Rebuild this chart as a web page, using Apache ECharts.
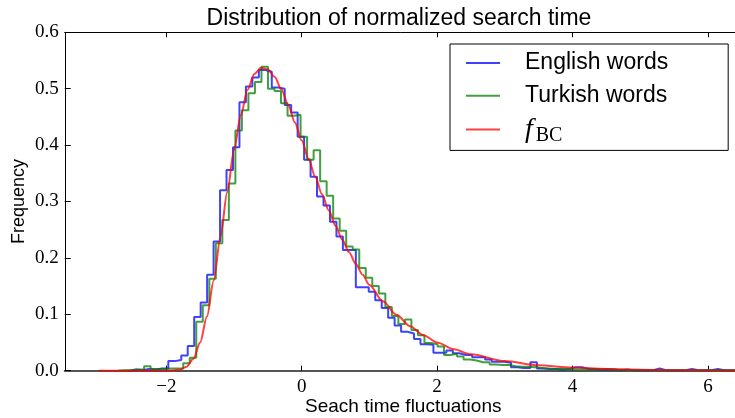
<!DOCTYPE html>
<html>
<head>
<meta charset="utf-8">
<script src="https://cdn.jsdelivr.net/npm/echarts@6/dist/echarts.min.js"></script>
<style>html,body{margin:0;padding:0;background:#fff;}#c{width:735px;height:418px;}</style>
</head>
<body>
<div id="c"></div>
<script>
// ---- data ----
const xTicks = [-2, 0, 2, 4, 6];
const yTicks = [0, 0.1, 0.2, 0.3, 0.4, 0.5, 0.6];

const englishBinStart = -2.543;
const englishBinWidth = 0.0955;
const englishHeights = [
  0.002, 0.001, 0.003, 0.002, 0.004, 0.004, 0.017, 0.019, 0.027, 0.044,
  0.095, 0.121, 0.170, 0.229, 0.320, 0.356, 0.396, 0.476, 0.504, 0.520,
  0.533, 0.530, 0.502, 0.500, 0.471, 0.458, 0.415, 0.374, 0.344, 0.309,
  0.293, 0.264, 0.238, 0.214, 0.214, 0.148, 0.148, 0.140, 0.125, 0.111,
  0.094, 0.080, 0.069, 0.066, 0.056, 0.047, 0.046, 0.032, 0.032, 0.036,
  0.031, 0.028, 0.028, 0.024, 0.024, 0.020, 0.016, 0.016, 0.014, 0.006,
  0.005, 0.005, 0.015, 0.004, 0.003, 0.003, 0.002, 0.003, 0.006, 0.006,
  0.003, 0.003, 0.002, 0.002, 0.002, 0.001, 0.002, 0.001, 0.001, 0.001,
  0.001, 0.004, 0.001, 0.001, 0.001, 0.001, 0.003, 0.001, 0.001, 0.001,
  0.003, 0.001, 0.001, 0.001, 0.001, 0.001
];

const turkishBinStart = -2.713;
const turkishBinWidth = 0.0963;
const turkishHeights = [
  0.001, 0.001, 0.002, 0.002, 0.008, 0.003, 0.003, 0.004, 0.004, 0.004,
  0.013, 0.023, 0.087, 0.116, 0.163, 0.226, 0.267, 0.332, 0.426, 0.462,
  0.492, 0.512, 0.539, 0.500, 0.496, 0.474, 0.452, 0.454, 0.415, 0.374,
  0.391, 0.336, 0.310, 0.270, 0.248, 0.220, 0.215, 0.182, 0.165, 0.150,
  0.137, 0.113, 0.097, 0.083, 0.091, 0.072, 0.063, 0.049, 0.047, 0.043,
  0.028, 0.030, 0.025, 0.020, 0.018, 0.015, 0.015, 0.011, 0.010, 0.010,
  0.008, 0.007, 0.007, 0.006, 0.005, 0.004, 0.003, 0.003, 0.003, 0.002,
  0.002, 0.002, 0.002, 0.002, 0.003, 0.002, 0.001, 0.001, 0.001, 0.001,
  0.001, 0.001, 0.001, 0.001, 0.001, 0.001, 0.001, 0.001, 0.001, 0.001,
  0.001, 0.001, 0.001, 0.001, 0.001, 0.001, 0.001, 0.001
];

const fbcX = [-3.0, -2.5, -2.2, -2.0, -1.9, -1.8, -1.7, -1.6, -1.5, -1.4, -1.3, -1.2, -1.1, -1.0,
  -0.9, -0.8, -0.7, -0.6, -0.5, -0.4, -0.3, -0.2, -0.1, 0, 0.1, 0.2, 0.3, 0.4, 0.5, 0.6, 0.7,
  0.8, 0.9, 1.0, 1.2, 1.4, 1.6, 1.8, 2.0, 2.25, 2.5, 3.0, 3.5, 4.0, 4.5, 5.0, 5.5, 6.0, 6.5];
const fbcY = [0, 0, 0, 0.0001, 0.0004, 0.0018, 0.007, 0.021, 0.050, 0.096, 0.160, 0.237, 0.317, 0.391,
  0.453, 0.498, 0.526, 0.537, 0.534, 0.521, 0.499, 0.471, 0.440, 0.408, 0.376, 0.344, 0.313, 0.284, 0.257, 0.232, 0.210,
  0.189, 0.170, 0.152, 0.123, 0.099, 0.079, 0.063, 0.050, 0.038, 0.029, 0.017, 0.0096, 0.0055, 0.0032, 0.0018, 0.0010, 0.0006, 0.0003];

const seriesNames = ['English words', 'Turkish words', 'f_BC'];

// ---- build step outlines from bins ----
function stepData(start, width, heights) {
  const pts = [[start, 0]];
  heights.forEach((h, i) => pts.push([start + i * width, h]));
  const end = start + heights.length * width;
  pts.push([end, heights[heights.length - 1]]);
  pts.push([end, 0]);
  return pts;
}

const serif = '"Liberation Serif", "DejaVu Serif", serif';
const sans = '"Liberation Sans", Arial, sans-serif';

const chart = echarts.init(document.getElementById('c'), null, {renderer: 'canvas'});
chart.setOption({
  animation: false,
  backgroundColor: '#fff',
  title: {
    text: 'Distribution of normalized search time',
    left: 394, top: 2, textAlign: 'center',
    textStyle: {fontFamily: sans, fontSize: 23, fontWeight: 'normal', color: '#000'}
  },
  legend: {
    orient: 'vertical',
    left: 450, top: 44,
    padding: [6, 60, 5, 16],
    itemGap: 6.7,
    icon: 'rect',
    itemWidth: 34, itemHeight: 2,
    borderColor: '#000', borderWidth: 1, borderRadius: 0,
    backgroundColor: '#fff',
    data: seriesNames,
    formatter: n => n === 'f_BC' ? '{f|f}{s|BC}' : n,
    textStyle: {
      fontFamily: sans, fontSize: 23, color: '#000', lineHeight: 26, padding: [0, 0, 0, 20],
      rich: {
        f: {fontFamily: serif, fontStyle: 'italic', fontSize: 28, color: '#000', lineHeight: 26},
        s: {fontFamily: serif, fontSize: 20, color: '#000', lineHeight: 14, height: 14, verticalAlign: 'bottom', padding: [0, 0, 0, 3]}
      }
    }
  },
  grid: {left: 64.75, top: 32.3, width: 677, height: 338.4, containLabel: false, outerBoundsMode: 'none'},
  xAxis: [{
    type: 'value', min: -3.5, max: 6.5, position: 'bottom',
    name: 'Seach time fluctuations', nameLocation: 'middle', nameGap: 27, nameMoveOverlap: false,
    nameTextStyle: {fontFamily: sans, fontSize: 19, color: '#000'},
    axisLine: {show: true, onZero: false, lineStyle: {color: '#555', width: 2}},
    axisTick: {show: true, inside: true, length: 5, customValues: xTicks, lineStyle: {color: '#000', width: 1}},
    axisLabel: {show: true, customValues: xTicks, margin: 7, fontFamily: serif, fontSize: 19, color: '#000',
      formatter: v => (v < 0 ? '\u2212' + Math.abs(v) : String(v))},
    splitLine: {show: false}
  }, {
    type: 'value', min: -3.5, max: 6.5, position: 'top',
    axisLine: {show: true, onZero: false, lineStyle: {color: '#000', width: 1}},
    axisTick: {show: true, inside: true, length: 5, customValues: xTicks, lineStyle: {color: '#000', width: 1}},
    axisLabel: {show: false},
    splitLine: {show: false}
  }],
  yAxis: {
    type: 'value', min: 0, max: 0.6, interval: 0.1,
    name: 'Frequency', nameLocation: 'middle', nameGap: 37, nameRotate: 90, nameMoveOverlap: false,
    nameTextStyle: {fontFamily: sans, fontSize: 18, color: '#000'},
    axisLine: {show: true, onZero: false, lineStyle: {color: '#000', width: 1}},
    axisTick: {show: true, inside: true, length: 6, lineStyle: {color: '#000'}},
    axisLabel: {margin: 6, fontFamily: serif, fontSize: 19, color: '#000', formatter: v => v.toFixed(1)},
    splitLine: {show: false}
  },
  series: [{
    name: seriesNames[0], type: 'line', step: 'end', showSymbol: false, symbol: 'none',
    data: stepData(englishBinStart, englishBinWidth, englishHeights),
    lineStyle: {color: 'rgba(0,0,255,0.75)', width: 2}, itemStyle: {color: 'rgba(0,0,255,0.75)'}, z: 2
  }, {
    name: seriesNames[1], type: 'line', step: 'end', showSymbol: false, symbol: 'none',
    data: stepData(turkishBinStart, turkishBinWidth, turkishHeights),
    lineStyle: {color: 'rgba(0,128,0,0.75)', width: 2}, itemStyle: {color: 'rgba(0,128,0,0.75)'}, z: 3
  }, {
    name: seriesNames[2], type: 'line', showSymbol: false, symbol: 'none', smooth: 0.3, smoothMonotone: 'x',
    data: fbcX.map((x, i) => [x, fbcY[i]]),
    lineStyle: {color: 'rgba(255,0,0,0.75)', width: 2}, itemStyle: {color: 'rgba(255,0,0,0.75)'}, z: 4
  }]
});
</script>
</body>
</html>
